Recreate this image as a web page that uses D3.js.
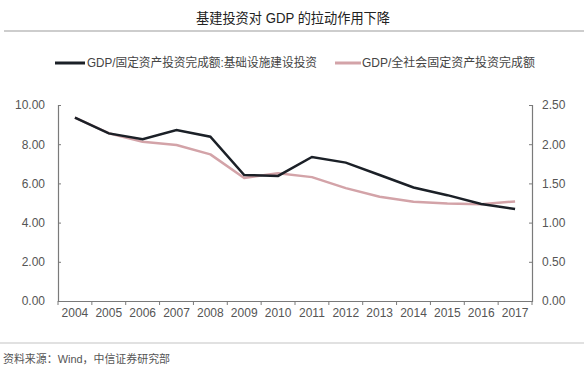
<!DOCTYPE html>
<html>
<head>
<meta charset="utf-8">
<script src="https://cdn.jsdelivr.net/npm/d3@7"></script>
<style>
  html, body { margin: 0; padding: 0; background: #fff; }
  svg { display: block; }
  text { font-family: "Liberation Sans", Arial, "Noto Sans CJK SC", sans-serif; }
  .cjk { font-family: "Liberation Sans", "Noto Sans CJK SC", sans-serif; }
</style>
</head>
<body>
<svg id="chart" width="584" height="381"></svg>
<script>
const years = ["2004","2005","2006","2007","2008","2009","2010","2011","2012","2013","2014","2015","2016","2017"];
const infraRatio = [9.35, 8.55, 8.25, 8.72, 8.38, 6.43, 6.38, 7.35, 7.06, 6.43, 5.79, 5.40, 4.95, 4.69];
const totalRatio = [2.34, 2.14, 2.03, 1.99, 1.87, 1.57, 1.63, 1.58, 1.44, 1.33, 1.265, 1.245, 1.235, 1.27];
const leftTicks = [0, 2, 4, 6, 8, 10];
const rightTicks = [0, 0.5, 1, 1.5, 2, 2.5];
const title = "基建投资对 GDP 的拉动作用下降";
const seriesNames = ["GDP/固定资产投资完成额:基础设施建设投资", "GDP/全社会固定资产投资完成额"];
const source = "资料来源：Wind，中信证券研究部";

const colors = ["#1b2027", "#d3a3a8"];
const svg = d3.select("#chart");
const L = 58, R = 532, T = 105, B = 301;

const x = d3.scaleBand().domain(years).range([L, R]);
const yL = d3.scaleLinear().domain([0, 10]).range([B, T]);
const yR = d3.scaleLinear().domain([0, 2.5]).range([B, T]);

// title
svg.append("text").attr("class", "cjk")
  .attr("x", 293).attr("y", 23).attr("text-anchor", "middle")
  .attr("font-size", 14).attr("fill", "#222")
  .attr("textLength", 194).attr("lengthAdjust", "spacingAndGlyphs")
  .text(title);
svg.append("line").attr("x1", 4).attr("x2", 584).attr("y1", 31).attr("y2", 31)
  .attr("stroke", "#bdbdbd").attr("stroke-width", 1.5);

// legend
const legend = [
  {x1: 55, x2: 85, tx: 87, len: 230, color: colors[0], name: seriesNames[0]},
  {x1: 335, x2: 361, tx: 362, len: 173, color: colors[1], name: seriesNames[1]}
];
legend.forEach(d => {
  svg.append("line").attr("x1", d.x1).attr("x2", d.x2).attr("y1", 63).attr("y2", 63)
    .attr("stroke", d.color).attr("stroke-width", 3);
  svg.append("text").attr("class", "cjk").attr("x", d.tx).attr("y", 67)
    .attr("font-size", 12).attr("fill", "#444")
    .attr("textLength", d.len).attr("lengthAdjust", "spacingAndGlyphs")
    .text(d.name);
});

// axes
const axisColor = "#7a7a7a";
const gL = svg.append("g").attr("transform", `translate(${L},0)`)
  .call(d3.axisRight(yL).tickValues(leftTicks).tickSize(3).tickFormat(d3.format(".2f")));
gL.selectAll("text").attr("x", -13).attr("text-anchor", "end");
const gR = svg.append("g").attr("transform", `translate(${R},0)`)
  .call(d3.axisLeft(yR).tickValues(rightTicks).tickSize(3).tickFormat(d3.format(".2f")));
gR.selectAll("text").attr("x", 10).attr("text-anchor", "start");
const gX = svg.append("g").attr("transform", `translate(0,${B})`)
  .call(d3.axisBottom(x).tickSize(0));
gX.selectAll("text").attr("dy", "1.05em");
// band boundary ticks
const bounds = years.map(yv => x(yv)).concat([R]);
gX.selectAll(".bt").data(bounds).enter().append("line")
  .attr("class", "bt").attr("x1", d => d).attr("x2", d => d)
  .attr("y1", 0).attr("y2", 4).attr("stroke", axisColor);

[gL, gR, gX].forEach(g => {
  g.select(".domain").attr("stroke", axisColor).attr("stroke-width", 1.2);
  g.selectAll(".tick line").attr("stroke", axisColor);
  g.selectAll("text").attr("font-size", 12).attr("fill", "#555")
    .attr("font-family", "'Liberation Sans', Arial, sans-serif");
});

// lines
const cx = d => x(d) + x.bandwidth() / 2;
const lineL = d3.line().x((d, i) => cx(years[i])).y(d => yL(d));
const lineR = d3.line().x((d, i) => cx(years[i])).y(d => yR(d));
svg.append("path").datum(totalRatio).attr("d", lineR)
  .attr("fill", "none").attr("stroke", colors[1]).attr("stroke-width", 2.5)
  .attr("stroke-linejoin", "round");
svg.append("path").datum(infraRatio).attr("d", lineL)
  .attr("fill", "none").attr("stroke", colors[0]).attr("stroke-width", 2.5)
  .attr("stroke-linejoin", "miter");

// footer
svg.append("line").attr("x1", 0).attr("x2", 584).attr("y1", 343).attr("y2", 343)
  .attr("stroke", "#c4c4c4").attr("stroke-width", 1.2);
svg.append("text").attr("class", "cjk").attr("x", 3).attr("y", 363)
  .attr("font-size", 11.5).attr("fill", "#555")
  .attr("textLength", 167).attr("lengthAdjust", "spacingAndGlyphs")
  .text(source);
</script>
</body>
</html>
